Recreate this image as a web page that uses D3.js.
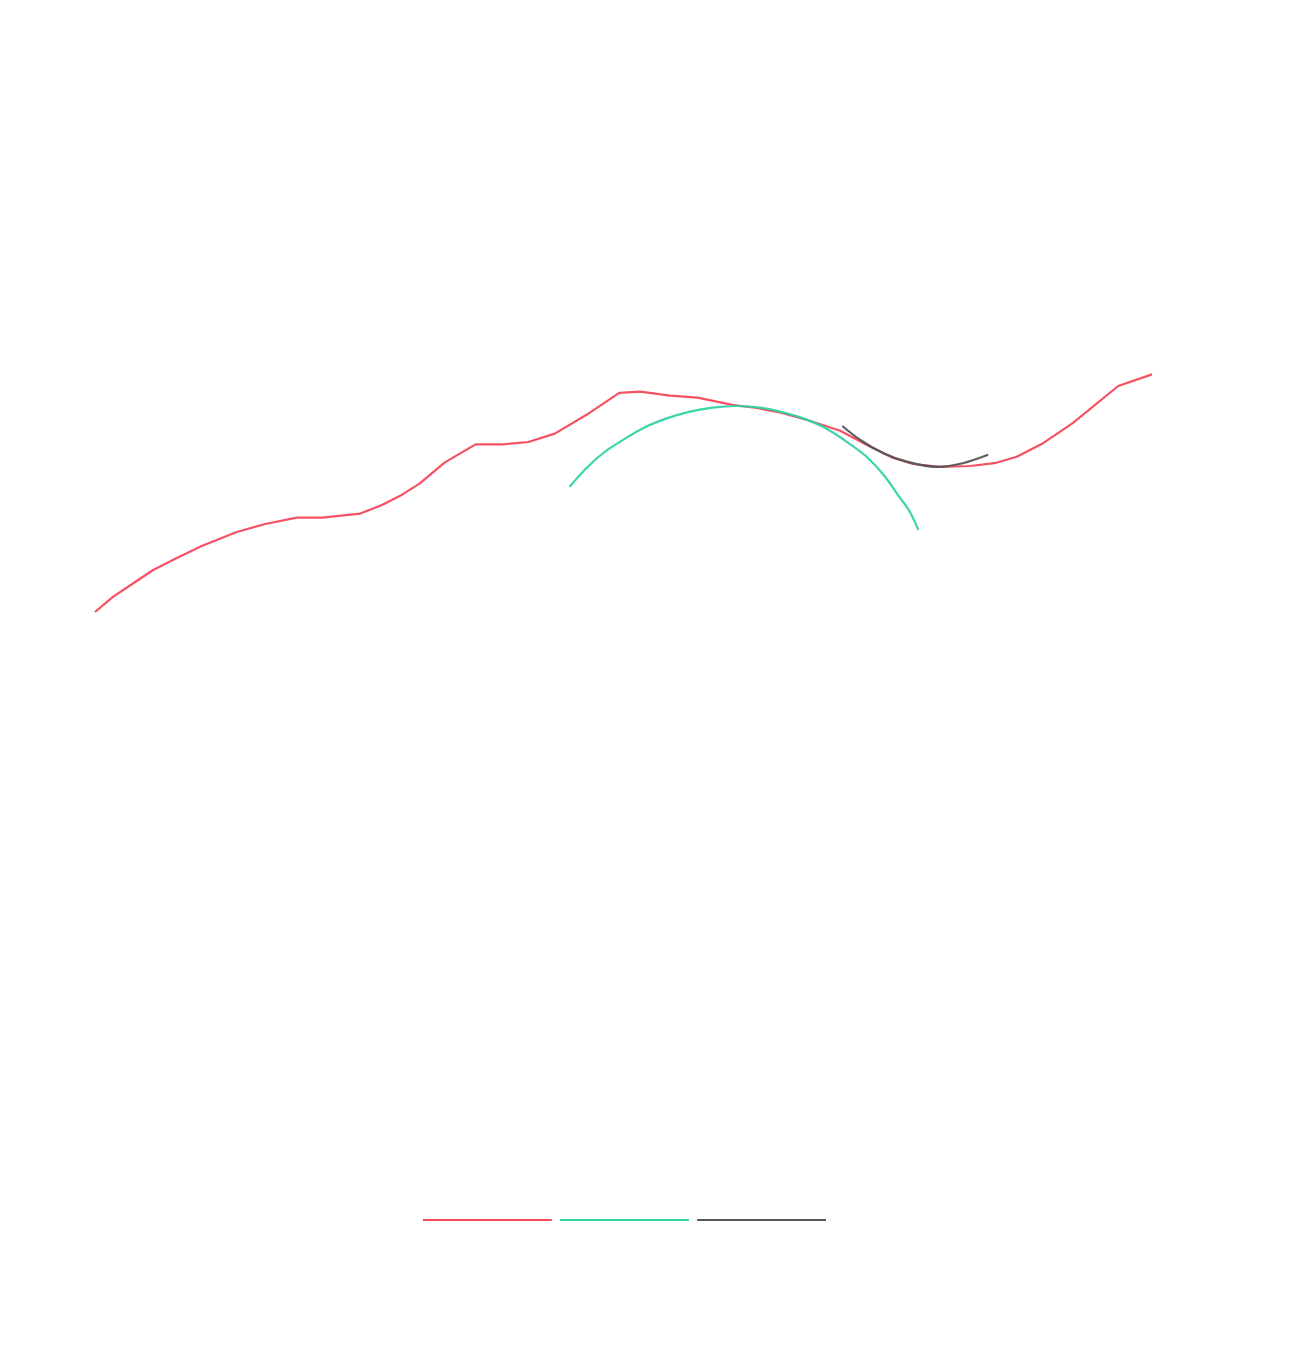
<!DOCTYPE html>
<html>
<head>
<meta charset="utf-8">
<script src="https://cdn.jsdelivr.net/npm/d3@7"></script>
<style>
  html, body { margin: 0; padding: 0; background: #ffffff; }
  svg { display: block; }
</style>
</head>
<body>
<svg id="chart" width="1304" height="1368"></svg>
<script>
// Series data (abstract units, x in [0,100], y in [0,100])
const seriesNames = ["Observed", "Quadratic fit", "Local fit"];
const seriesColors = ["#f4485b", "#2fd3a4", "#555555"];

const observedX = [0, 1.7, 3.8, 5.5, 7.6, 10.1, 13.4, 16.1, 19.1, 21.5, 25.1, 27.2, 29.1, 30.7, 33.1, 36.0, 38.6, 41.0, 43.5, 46.5, 49.6, 51.6, 54.4, 57.0, 60.3, 62.6, 64.8, 67.4, 70.5, 73.0, 75.5, 77.4, 79.9, 82.8, 85.1, 87.2, 89.7, 92.5, 96.8, 100];
const observedY = [22.0, 25.8, 29.5, 32.5, 35.3, 38.5, 42.0, 44.0, 45.6, 45.6, 46.6, 48.8, 51.4, 54.1, 59.4, 63.9, 63.9, 64.5, 66.6, 71.3, 76.8, 77.1, 76.1, 75.6, 73.8, 73.0, 71.9, 70.0, 67.3, 63.8, 60.5, 59.0, 58.3, 58.5, 59.2, 60.8, 64.2, 69.2, 78.5, 81.4];

const quadX = [44.9, 46.5, 48.2, 49.7, 51.8, 54.1, 56.3, 58.4, 60.7, 62.9, 64.8, 67.0, 69.3, 71.1, 73.0, 74.6, 76.2, 77.1, 77.9];
const quadY = [53.3, 58.0, 62.0, 64.6, 67.9, 70.4, 72.1, 73.1, 73.5, 73.1, 72.1, 70.4, 67.7, 64.6, 60.8, 56.3, 50.4, 47.0, 42.5];

const localX = [70.7, 72.4, 74.6, 76.8, 79.7, 82.1, 84.5];
const localY = [68.5, 65.0, 61.7, 59.6, 58.3, 59.2, 61.3];

const svg = d3.select("#chart");

const x = d3.scaleLinear().domain([0, 100]).range([95, 1152]);
const y = d3.scaleLinear().domain([0, 100]).range([700, 300]);

const series = [
  { name: seriesNames[0], color: seriesColors[0], curve: d3.curveLinear, pts: observedX.map((v, i) => [v, observedY[i]]) },
  { name: seriesNames[1], color: seriesColors[1], curve: d3.curveMonotoneX, pts: quadX.map((v, i) => [v, quadY[i]]) },
  { name: seriesNames[2], color: seriesColors[2], curve: d3.curveMonotoneX, pts: localX.map((v, i) => [v, localY[i]]) }
];

svg.append("g").selectAll("path")
  .data(series)
  .join("path")
  .attr("d", d => d3.line().curve(d.curve).x(p => x(p[0])).y(p => y(p[1]))(d.pts))
  .attr("fill", "none")
  .attr("stroke", d => d.color)
  .attr("stroke-width", 2.2)
  .attr("stroke-linejoin", "round")
  .attr("opacity", 0.95);

// Legend
const legendX = d3.scaleBand().domain(seriesNames).range([423, 826]).paddingInner(0.06);
const legend = svg.append("g");
legend.selectAll("line")
  .data(series)
  .join("line")
  .attr("x1", d => legendX(d.name))
  .attr("x2", d => legendX(d.name) + legendX.bandwidth())
  .attr("y1", 1220)
  .attr("y2", 1220)
  .attr("stroke", d => d.color)
  .attr("stroke-width", 2.2);
legend.selectAll("title")
  .data(series)
  .join("title")
  .text(d => d.name);
</script>
</body>
</html>
